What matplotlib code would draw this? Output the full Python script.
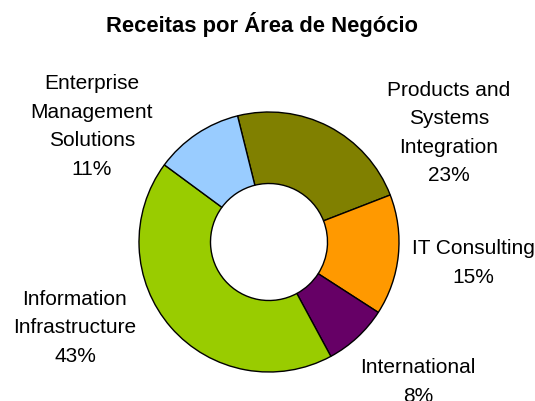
import matplotlib
matplotlib.use("Agg")
import matplotlib.pyplot as plt

plt.rcParams['font.family'] = ['Liberation Sans', 'DejaVu Sans']

# fatias (sentido horário a partir do topo)
areas = ['Products and\nSystems\nIntegration', 'IT Consulting', 'International',
         'Information\nInfrastructure', 'Enterprise\nManagement\nSolutions']
percentuais = [23, 15, 8, 43, 11]
cores = ['#808000', '#FF9900', '#660066', '#99CC00', '#99CCFF']

# posição dos rótulos (pixels: centro x, baseline da última linha)
rotulo_x = [449, 473, 418, 75, 92]
rotulo_y = [181.5, 283, 401.5, 362, 175]

W, H = 535, 401
fig = plt.figure(figsize=(W / 100, H / 100), dpi=100)

# donut: centro (269, 242), raio 130 px
cx, cy, r = 269, 242, 130
ax = fig.add_axes([(cx - r) / W, (H - cy - r) / H, 2 * r / W, 2 * r / H])
ax.pie(percentuais, colors=cores, startangle=104, counterclock=False, radius=1,
       wedgeprops=dict(width=0.55, edgecolor='black', linewidth=1.0))
ax.set_xlim(-1, 1)
ax.set_ylim(-1, 1)
ax.axis('off')

for nome, p, x, y in zip(areas, percentuais, rotulo_x, rotulo_y):
    fig.text(x / W, 1 - y / H, f'{nome}\n{p}%', ha='center', va='baseline',
             fontsize=15, linespacing=1.64, multialignment='center')

fig.text(262.5 / W, 1 - 32.3 / H, 'Receitas por Área de Negócio', ha='center',
         va='baseline', fontsize=15.8, fontweight='bold')

fig.savefig('out.png', dpi=100)
